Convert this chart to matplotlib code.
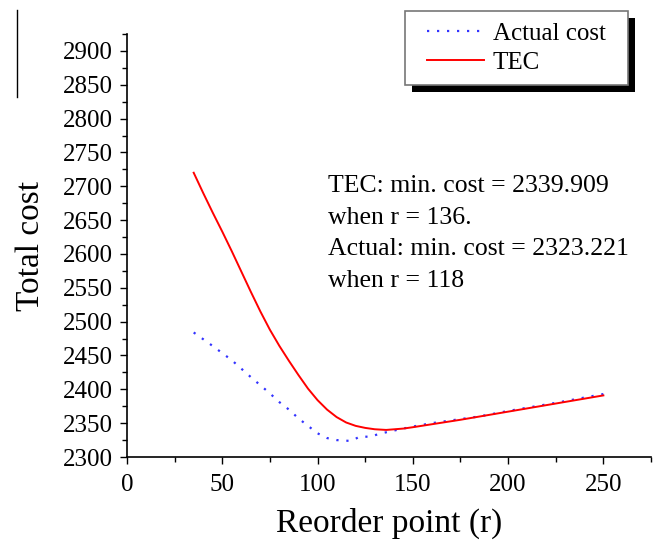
import numpy as np
import matplotlib
matplotlib.use("Agg")
from matplotlib import pyplot as plt
from matplotlib.patches import Rectangle
from matplotlib.lines import Line2D
from matplotlib.ticker import MultipleLocator

plt.rcParams['font.family'] = ['Liberation Serif', 'DejaVu Serif']

# TEC curve
tec_r = [35, 40, 45, 50, 55, 60, 65, 70, 75, 80, 85, 90, 95, 100, 105, 110, 115, 120, 125, 130, 136, 145, 150, 175, 200, 225, 250]
tec_cost = [2720, 2690, 2661, 2633, 2604, 2574, 2544, 2515, 2488, 2464, 2442, 2421, 2401, 2384, 2370, 2359, 2351, 2346, 2343, 2341, 2340, 2342, 2344, 2355, 2367, 2379, 2391]

# Actual cost
act_r = [35, 45, 55, 65, 75, 80, 85, 90, 95, 100, 105, 110, 115, 118, 122, 128, 132, 140, 150, 160, 175, 185, 200, 225, 250]
act_cost = [2484, 2464, 2443, 2418, 2394, 2381, 2370, 2357, 2346, 2335, 2328, 2325, 2324, 2324, 2330, 2330, 2334, 2339, 2345, 2350, 2356, 2360, 2368, 2380, 2393]

note_lines = ["TEC: min. cost = 2339.909", "when r = 136.", "Actual: min. cost = 2323.221", "when r = 118"]

W, H = 656, 541
fig = plt.figure(figsize=(W/100, H/100), dpi=100)
ax = fig.add_axes([127/W, 1-457/H, (651-127)/W, (457-34)/H])

l1, = ax.plot(act_r, act_cost, color='#3333ff', linestyle=(0, (1, 3.5)), linewidth=1.6, label='Actual cost')
l2, = ax.plot(tec_r, tec_cost, color='red', linewidth=1.4, label='TEC')

ax.set_xlim(0, 275)
ax.set_ylim(2300, 2925)
ax.xaxis.set_major_locator(MultipleLocator(50))
ax.xaxis.set_minor_locator(MultipleLocator(25))
ax.yaxis.set_major_locator(MultipleLocator(50))
ax.yaxis.set_minor_locator(MultipleLocator(25))
ax.spines['top'].set_visible(False)
ax.spines['right'].set_visible(False)
ax.spines['left'].set_linewidth(1.2)
ax.spines['bottom'].set_linewidth(1.2)
ax.tick_params(which='major', length=5, width=1, labelsize=18)
ax.tick_params(axis='x', which='major', pad=7)
ax.tick_params(axis='y', which='major', pad=5.5)
ax.tick_params(which='minor', length=3.5, width=1)

ax.set_xlabel('Reorder point (r)', fontsize=24, labelpad=9)
ax.set_ylabel('Total cost', fontsize=24, labelpad=12)

for i, line in enumerate(note_lines):
    fig.text(328/W, 1-(192 + 31.7*i)/H, line, fontsize=18.5, va='baseline', ha='left')

# legend with a hand-drawn frame and black shadow
fx0, fy0, fx1, fy1 = 405, 11, 628, 85
fig.add_artist(Rectangle(((fx0+7)/W, 1-(fy1+7)/H), (fx1-fx0)/W, (fy1-fy0)/H,
                         transform=fig.transFigure, facecolor='black', edgecolor='none', zorder=5))
fig.add_artist(Rectangle((fx0/W, 1-fy1/H), (fx1-fx0)/W, (fy1-fy0)/H,
                         transform=fig.transFigure, facecolor='white', edgecolor='#777777',
                         linewidth=1.2, zorder=6))
leg = fig.legend(handles=[l1, l2], loc='center', bbox_to_anchor=((fx0+fx1)/2/W, 1-(fy0+fy1)/2/H),
                 borderaxespad=0, borderpad=0, fontsize=18, handlelength=2.25, handletextpad=0.36,
                 labelspacing=0.25, frameon=False)
leg.set_zorder(7)

fig.add_artist(Line2D([16.5/W, 16.5/W], [1-10/H, 1-97/H], transform=fig.transFigure, color='black', linewidth=1))

fig.savefig('out.png', dpi=100)
